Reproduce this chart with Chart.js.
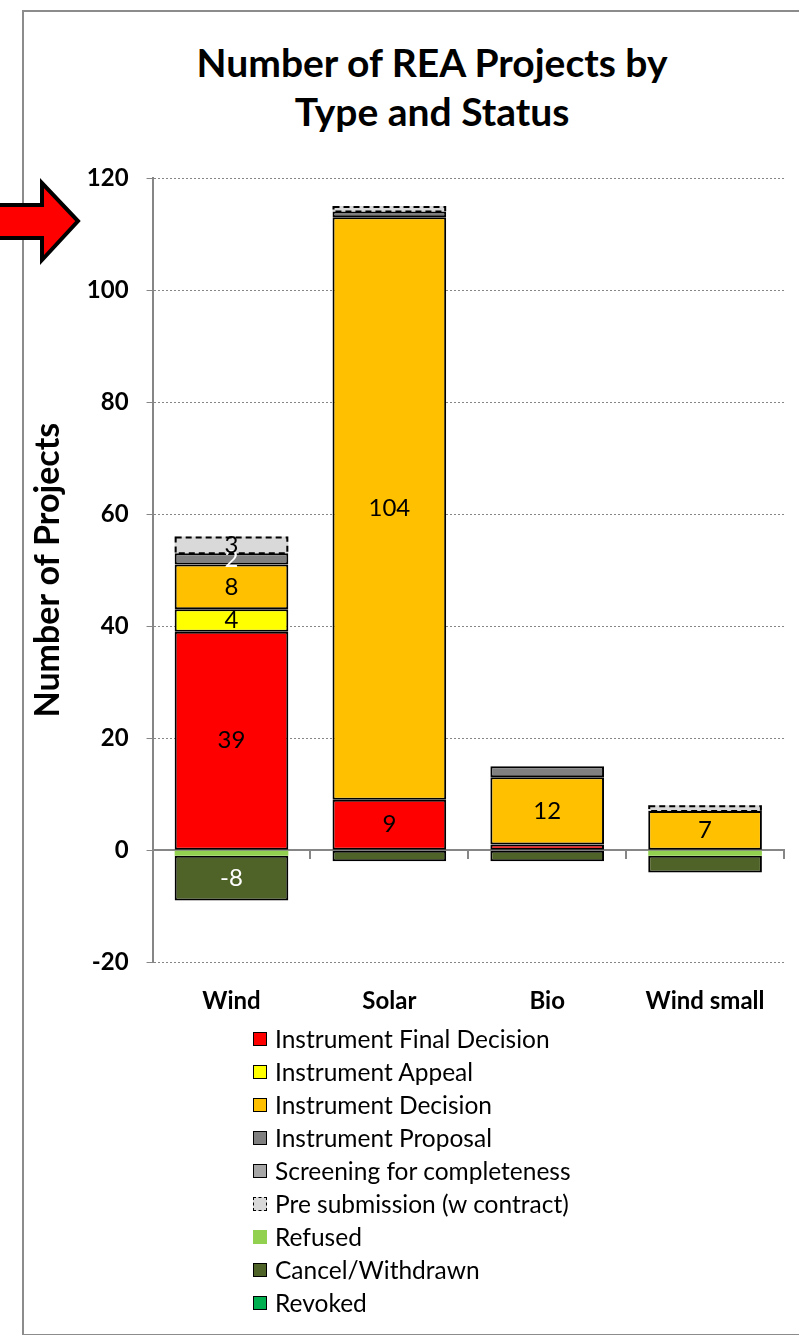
<!DOCTYPE html>
<html>
<head>
<meta charset="utf-8">
<script src="https://cdn.jsdelivr.net/npm/chart.js@4.4.1/dist/chart.umd.min.js"></script>
<style>
  body { margin: 0; background: #fff; overflow: hidden; font-family: Lato, "Open Sans", sans-serif; }
  #frame { position: absolute; left: 22px; top: 10px; width: 800px; height: 1322px; border: 2px solid #8c8c8c; }
  #chartTitle { position: absolute; left: 132px; top: 38px; width: 600px; text-align: center; font-weight: bold; font-size: 39px; line-height: 49px; color: #000; }
  #chartCanvas { position: absolute; left: 0; top: 0; }
  #legend { position: absolute; left: 253px; top: 1022px; font-size: 24.5px; color: #000; }
  .row { height: 33px; display: flex; align-items: center; }
  .box { width: 12px; height: 12px; margin-right: 8px; box-sizing: content-box; }
  #arrow { position: absolute; left: 0; top: 170px; }
</style>
</head>
<body>
<div id="frame"></div>
<div id="chartTitle">Number of REA Projects by<br>Type and Status</div>
<canvas id="chartCanvas" width="799" height="1041"></canvas>
<div id="legend"></div>
<svg id="arrow" width="90" height="100" viewBox="0 170 90 100">
  <polygon points="-4,205 42,205 42,183 78,221 42,260 42,238 -4,238" fill="#ff0000" stroke="#000" stroke-width="4" stroke-linejoin="miter"/>
</svg>
<script>
// categories and series
var categories = ["Wind", "Solar", "Bio", "Wind small"];
var finalDecision = [39, 9, 1, 0];
var appeal = [4, 0, 0, 0];
var decision = [8, 104, 12, 7];
var proposal = [2, 1, 2, 0];
var screening = [0, 0, 0, 0];
var preSubmission = [3, 1, 0, 1];
var refused = [-1, 0, 0, -1];
var cancelWithdrawn = [-8, -2, -2, -3];
var revoked = [0, 0, 0, 0];

var yTicks = { min: -20, max: 120, step: 20 };

// which segments carry a number: [series index, category index, text colour]
var labelledCells = [
	[0, 0, "#000"], [1, 0, "#000"], [2, 0, "#000"], [3, 0, "#fff"], [5, 0, "#000"], [7, 0, "#fff"],
	[0, 1, "#000"], [2, 1, "#000"],
	[2, 2, "#000"],
	[2, 3, "#000"]
];

var edge = "#000";
var axisGray = "#868686";

var series = [
	{ label: "Instrument Final Decision", data: finalDecision, backgroundColor: "#ff0000", borderColor: edge, borderWidth: 2 },
	{ label: "Instrument Appeal", data: appeal, backgroundColor: "#ffff00", borderColor: edge, borderWidth: 2 },
	{ label: "Instrument Decision", data: decision, backgroundColor: "#ffc000", borderColor: edge, borderWidth: 2 },
	{ label: "Instrument Proposal", data: proposal, backgroundColor: "#808080", borderColor: edge, borderWidth: 2 },
	{ label: "Screening for completeness", data: screening, backgroundColor: "#a6a6a6", borderColor: edge, borderWidth: 2 },
	{ label: "Pre submission (w contract)", data: preSubmission, backgroundColor: "#d9d9d9", borderColor: edge, borderWidth: 0, dashed: true },
	{ label: "Refused", data: refused, backgroundColor: "#92d050", borderColor: edge, borderWidth: 0 },
	{ label: "Cancel/Withdrawn", data: cancelWithdrawn, backgroundColor: "#4f6228", borderColor: edge, borderWidth: 2 },
	{ label: "Revoked", data: revoked, backgroundColor: "#00b050", borderColor: edge, borderWidth: 2 }
];
series.forEach(function(s) {
	s.borderSkipped = false;
	s.barPercentage = 0.72;
	s.categoryPercentage = 1.0;
});

//dashed outline for the pre submission boxes, and the numbers inside the bars
var barExtras = {
	id: "barExtras",
	afterDatasetsDraw: function(chart) {
		var ctx = chart.ctx;
		chart.data.datasets.forEach(function(ds, i) {
			if (!ds.dashed) return;
			chart.getDatasetMeta(i).data.forEach(function(el, j) {
				if (!ds.data[j]) return;
				var top = Math.min(el.y, el.base), h = Math.abs(el.base - el.y);
				ctx.save();
				ctx.strokeStyle = "#000";
				ctx.lineWidth = 2;
				ctx.setLineDash([6, 4]);
				ctx.strokeRect(el.x - el.width / 2 + 1, top + 1, el.width - 2, h - 1);
				ctx.restore();
			});
		});
		ctx.save();
		ctx.font = "24px Lato";
		ctx.textAlign = "center";
		ctx.textBaseline = "middle";
		labelledCells.forEach(function(c) {
			var el = chart.getDatasetMeta(c[0]).data[c[1]];
			ctx.fillStyle = c[2];
			ctx.fillText(String(chart.data.datasets[c[0]].data[c[1]]), el.x, (el.y + el.base) / 2);
		});
		ctx.restore();
	}
};

var chart = new Chart("chartCanvas", {
	type: "bar",
	data: { labels: categories, datasets: series },
	plugins: [barExtras],
	options: {
		responsive: false,
		animation: false,
		devicePixelRatio: 1,
		layout: { padding: { top: 178, left: 27, right: 15, bottom: 8 } },
		plugins: { legend: { display: false }, tooltip: { enabled: false } },
		scales: {
			x: {
				stacked: true,
				grid: { display: false },
				border: { display: false },
				ticks: { color: "#000", padding: 17, font: { family: "Lato", size: 24, weight: "bold" } }
			},
			x2: {
				type: "category",
				position: { y: 0 },
				offset: true,
				grid: { offset: true, drawOnChartArea: false, drawTicks: true, tickLength: 8, color: axisGray, lineWidth: 2 },
				border: { display: true, color: axisGray, width: 2 },
				ticks: { display: false }
			},
			y: {
				stacked: true,
				min: yTicks.min,
				max: yTicks.max,
				ticks: { stepSize: yTicks.step, color: "#000", padding: 18, font: { family: "Lato", size: 24, weight: "bold" } },
				grid: {
					color: function(c) { return c.tick && c.tick.value === 0 ? "rgba(0,0,0,0)" : axisGray; },
					lineWidth: 1,
					tickLength: 6,
					tickColor: axisGray
				},
				border: { display: true, color: axisGray, width: 2, dash: [2, 2] },
				title: { display: true, text: "Number of Projects", color: "#000", padding: { top: 1, bottom: 0 }, font: { family: "Lato", size: 34, weight: "bold" } }
			}
		}
	}
});

//legend built from the datasets, one item per line as in the original
var legendDiv = document.getElementById("legend");
chart.data.datasets.forEach(function(ds) {
	var row = document.createElement("div");
	row.className = "row";
	var box = document.createElement("span");
	box.className = "box";
	box.style.background = ds.backgroundColor;
	if (ds.dashed) box.style.border = "1.5px dashed #000";
	else if (ds.borderWidth) box.style.border = "1.5px solid #000";
	else box.style.border = "1.5px solid " + ds.backgroundColor;
	var txt = document.createElement("span");
	txt.textContent = ds.label;
	row.appendChild(box);
	row.appendChild(txt);
	legendDiv.appendChild(row);
});
</script>
</body>
</html>
